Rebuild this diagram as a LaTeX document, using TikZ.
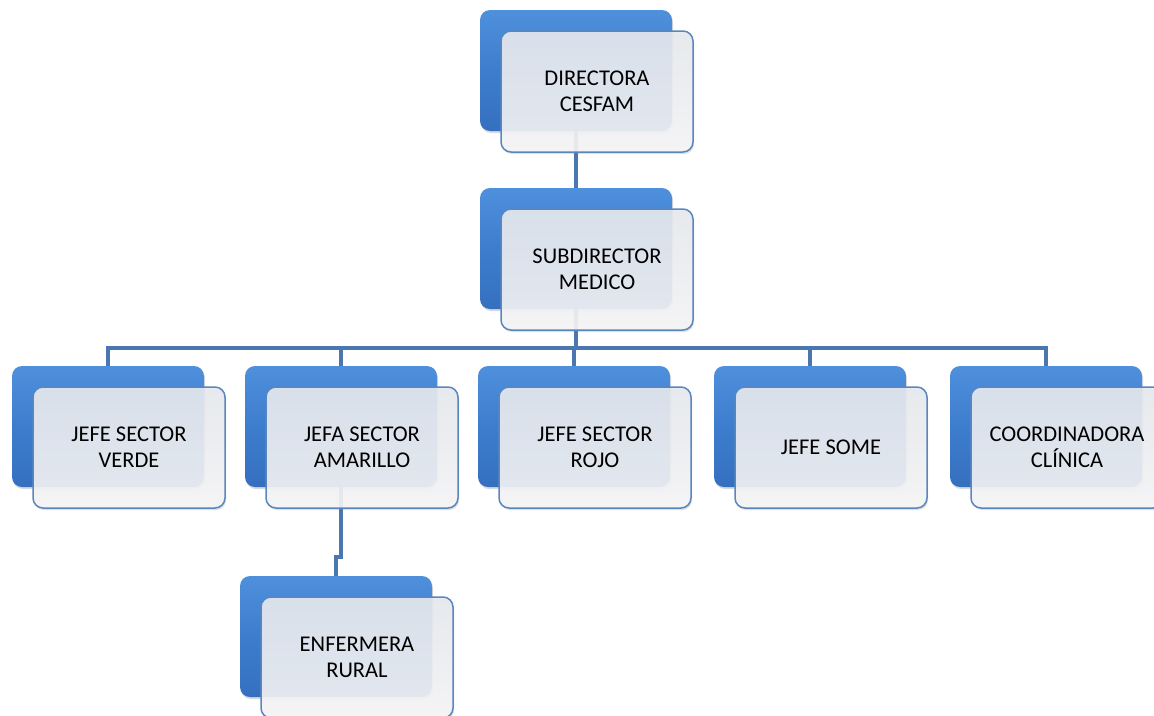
\documentclass[tikz,border=0pt]{standalone}
\usepackage{fontspec}
\setmainfont{Carlito}
\usepackage{tikz}
\usetikzlibrary{positioning,shadows}
\definecolor{cardblue}{HTML}{3D7DCD}
\definecolor{cardtop}{HTML}{4F90DD}
\definecolor{cardbot}{HTML}{3570BF}
\definecolor{linkblue}{HTML}{4A77B0}
\definecolor{edgeblue}{HTML}{5A86BF}
\definecolor{facetop}{HTML}{E7EAEF}
\definecolor{facebot}{HTML}{F6F6F7}

\begin{document}
\begin{tikzpicture}[x=1pt,y=-1pt,
	back/.style={rectangle,rounded corners=10pt,minimum width=192pt,minimum height=121pt,
		top color=cardtop,bottom color=cardbot,middle color=cardblue,
		drop shadow={shadow xshift=1pt,shadow yshift=-2pt,opacity=0.3}},
	front/.style={rectangle,rounded corners=10pt,minimum width=192pt,minimum height=121pt,
		draw=edgeblue,line width=1.5pt,top color=facetop,bottom color=facebot,fill opacity=0.9,
		text opacity=1,align=center,font=\fontsize{22.5}{26}\selectfont,
		drop shadow={shadow xshift=1pt,shadow yshift=-2pt,opacity=0.25}},
	link/.style={draw=linkblue,line width=4.5pt},
	]
	\clip (0,0) rectangle (1154,715);
	% back cards
	\node[back] (D) at (576,70.5) {};
	\node[back] (S) at (576,248.5) {};
	\node[back] (V) at (108,426.5) {};
	\node[back] (A) at (341,426.5) {};
	\node[back] (R) at (574,426.5) {};
	\node[back] (J) at (810,426.5) {};
	\node[back] (C) at (1046,426.5) {};
	\node[back] (E) at (336,636.5) {};
	% connectors
	\draw[link] (D.south) -- (S.north);
	\draw[link] (S.south) -- ++(0,39) -| (V.north);
	\draw[link] (S.south) -- ++(0,39) -| (A.north);
	\draw[link] (S.south) -- ++(0,39) -| (R.north);
	\draw[link] (S.south) -- ++(0,39) -| (J.north);
	\draw[link] (S.south) -- ++(0,39) -| (C.north);
	\draw[link] (A.south) -- ++(0,70) -| (E.north);
	% front cards
	\node[front] (Df) at ([shift={(21,21)}]D) {DIRECTORA\\CESFAM};
	\node[front] (Sf) at ([shift={(21,21)}]S) {SUBDIRECTOR\\MEDICO};
	\node[front] (Vf) at ([shift={(21,21)}]V) {JEFE SECTOR\\VERDE};
	\node[front] (Af) at ([shift={(21,21)}]A) {JEFA SECTOR\\AMARILLO};
	\node[front] (Rf) at ([shift={(21,21)}]R) {JEFE SECTOR\\ROJO};
	\node[front] (Jf) at ([shift={(21,21)}]J) {JEFE SOME};
	\node[front] (Cf) at ([shift={(21,21)}]C) {COORDINADORA\\CLÍNICA};
	\node[front] (Ef) at ([shift={(21,21)}]E) {ENFERMERA\\RURAL};
\end{tikzpicture}
\end{document}
